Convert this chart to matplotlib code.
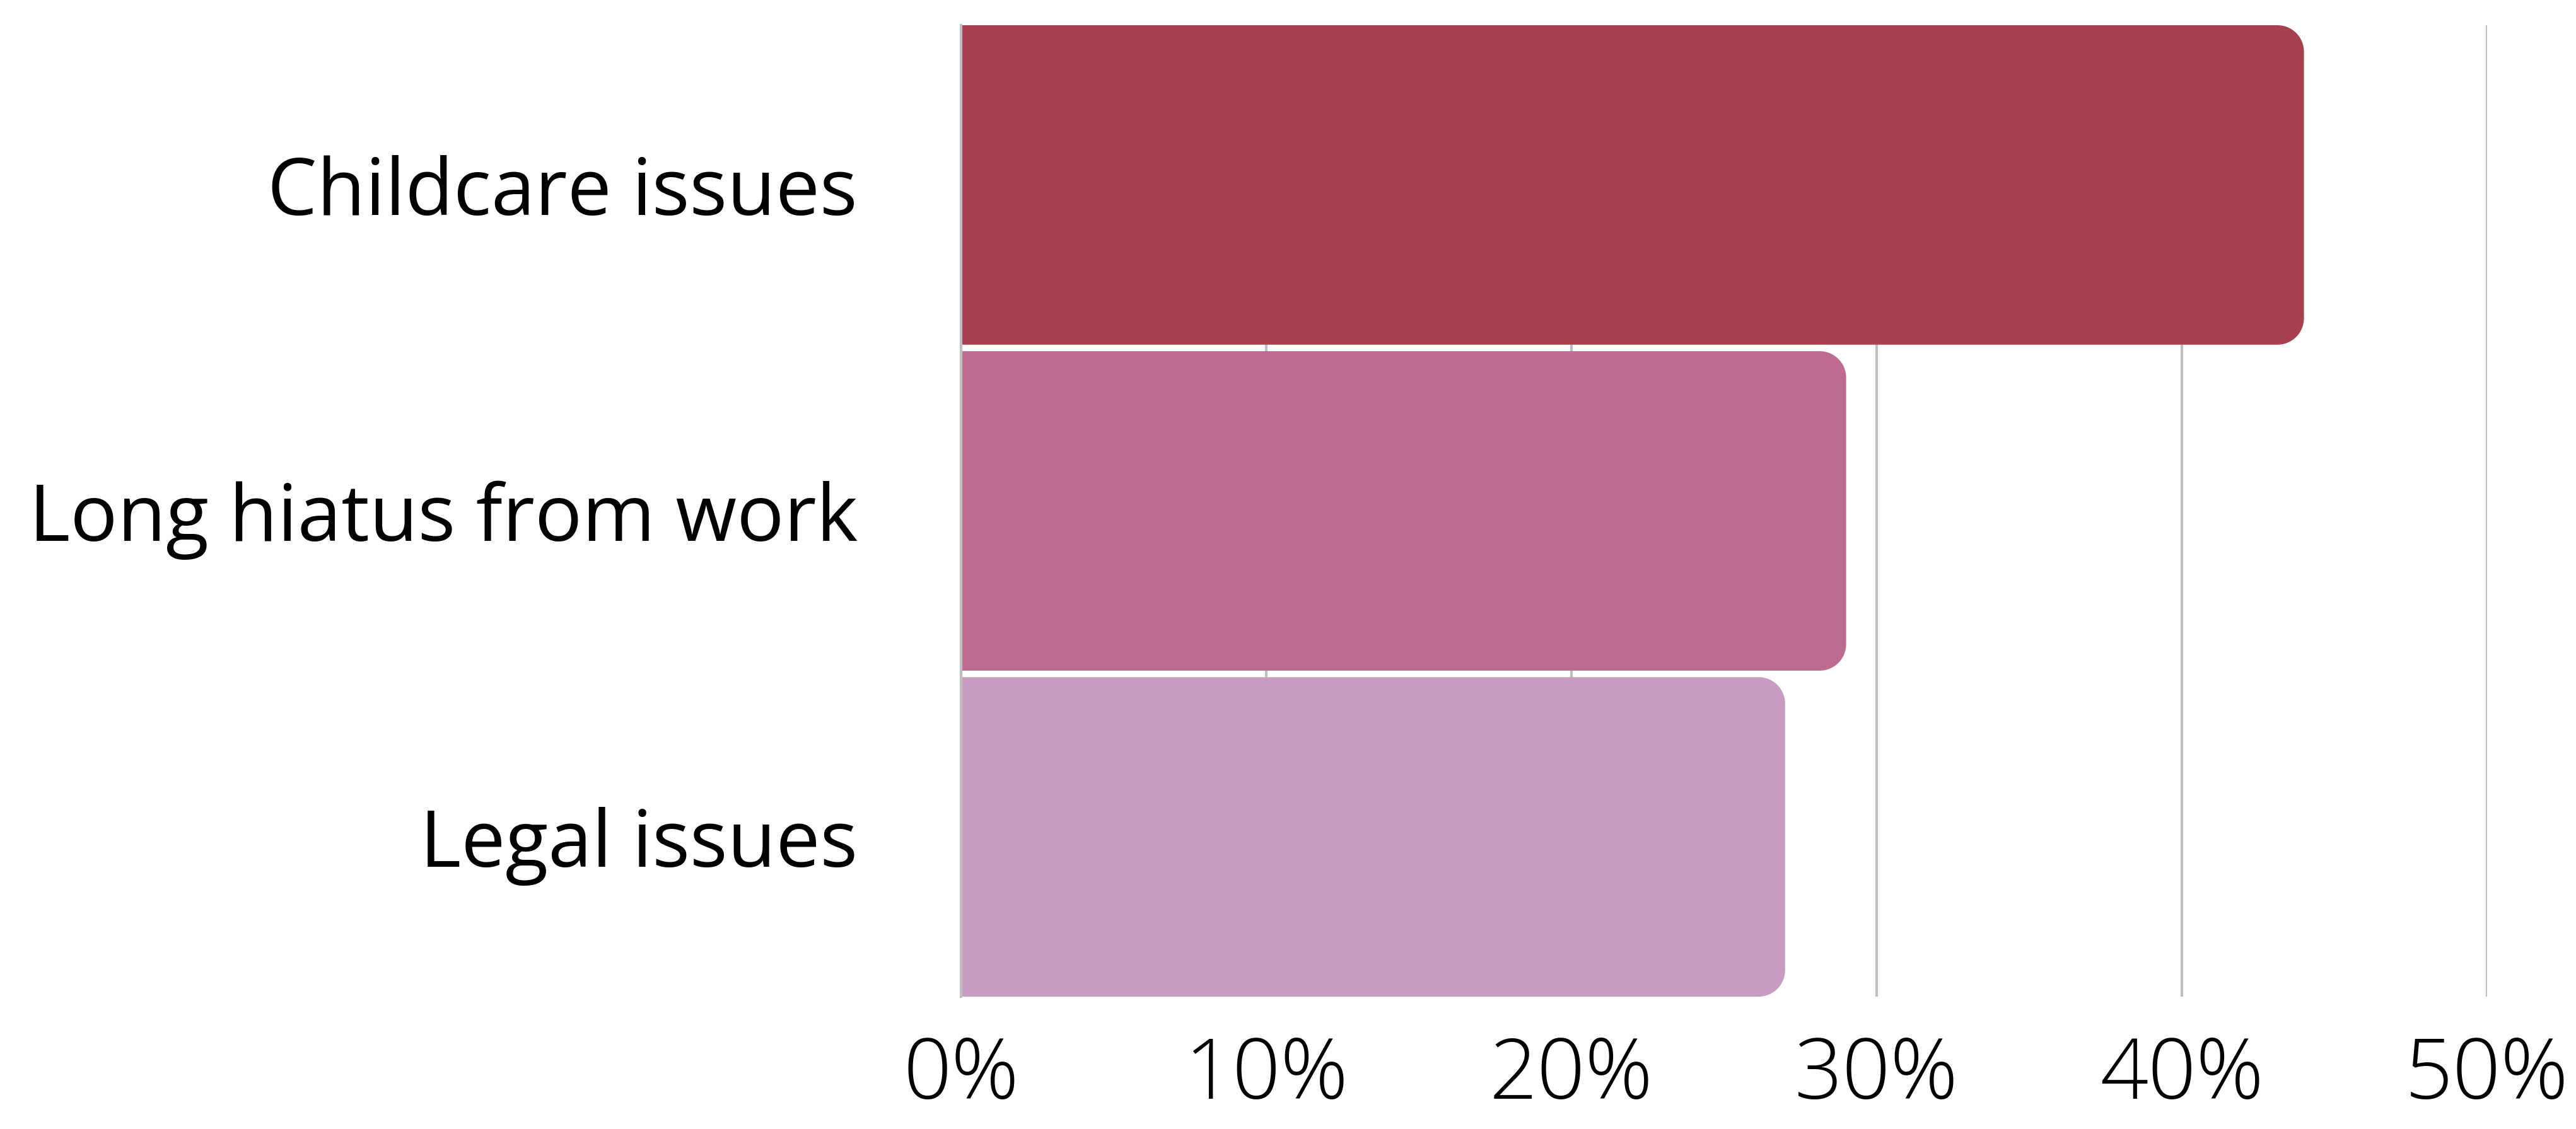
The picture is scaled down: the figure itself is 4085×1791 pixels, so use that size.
import matplotlib
matplotlib.use("Agg")
import matplotlib.pyplot as plt
from matplotlib.path import Path
from matplotlib.patches import PathPatch
import matplotlib.ticker as mticker

categories = ["Childcare issues", "Long hiatus from work", "Legal issues"]
values = [0.44, 0.29, 0.27]
colors = ["#A64150", "#BD6C8F", "#C89DC1"]
xticks = [0, 0.1, 0.2, 0.3, 0.4, 0.5]

W, H = 4085, 1791
fig = plt.figure(figsize=(W / 100, H / 100), dpi=100)
ax_l, ax_r = 1524 / W, 3944 / W
ax_t, ax_b = 1 - 40 / H, 1 - 1581 / H
ax = fig.add_axes([ax_l, ax_b, ax_r - ax_l, ax_t - ax_b])

bar_h = 0.98
ax.set_xlim(0, 0.5)
ax.set_ylim(len(categories) - 1 + bar_h / 2, -bar_h / 2)

# pixel -> data scale
px_per_x = (ax_r - ax_l) * W / 0.5
px_per_y = (ax_t - ax_b) * H / (len(categories) - 1 + bar_h)
r_px = 42
rx, ry = r_px / px_per_x, r_px / px_per_y
k = 0.5523

for i, (v, c) in enumerate(zip(values, colors)):
    y0, y1 = i - bar_h / 2, i + bar_h / 2
    verts = [
        (0, y0), (v - rx, y0),
        (v - rx + k * rx, y0), (v, y0 + ry - k * ry), (v, y0 + ry),
        (v, y1 - ry),
        (v, y1 - ry + k * ry), (v - rx + k * rx, y1), (v - rx, y1),
        (0, y1), (0, y0),
    ]
    codes = [Path.MOVETO, Path.LINETO,
             Path.CURVE4, Path.CURVE4, Path.CURVE4,
             Path.LINETO,
             Path.CURVE4, Path.CURVE4, Path.CURVE4,
             Path.LINETO, Path.CLOSEPOLY]
    ax.add_patch(PathPatch(Path(verts, codes), facecolor=c, edgecolor="none", zorder=3))

ax.set_xticks(xticks)
ax.xaxis.set_major_formatter(mticker.FuncFormatter(lambda x, p: f"{round(x*100)}%"))
ax.set_yticks(range(len(categories)))
ax.set_yticklabels(categories)

ax.grid(axis="x", color="#BFBFBF", linewidth=3, zorder=0)
ax.grid(axis="y", visible=False)
for s in ["top", "right", "bottom"]:
    ax.spines[s].set_visible(False)
ax.spines["left"].set_color("#BFBFBF")
ax.spines["left"].set_linewidth(3)
ax.spines["left"].set_zorder(4)

ax.tick_params(axis="x", length=0, pad=44, labelsize=96, labelcolor="black")
ax.tick_params(axis="y", length=0, pad=118, labelsize=90, labelcolor="black")
for lab in ax.get_xticklabels():
    lab.set_fontfamily("Open Sans")
    lab.set_fontweight("light")
for lab in ax.get_yticklabels():
    lab.set_fontfamily("Open Sans")

fig.savefig("out.png", dpi=100, facecolor="white")
